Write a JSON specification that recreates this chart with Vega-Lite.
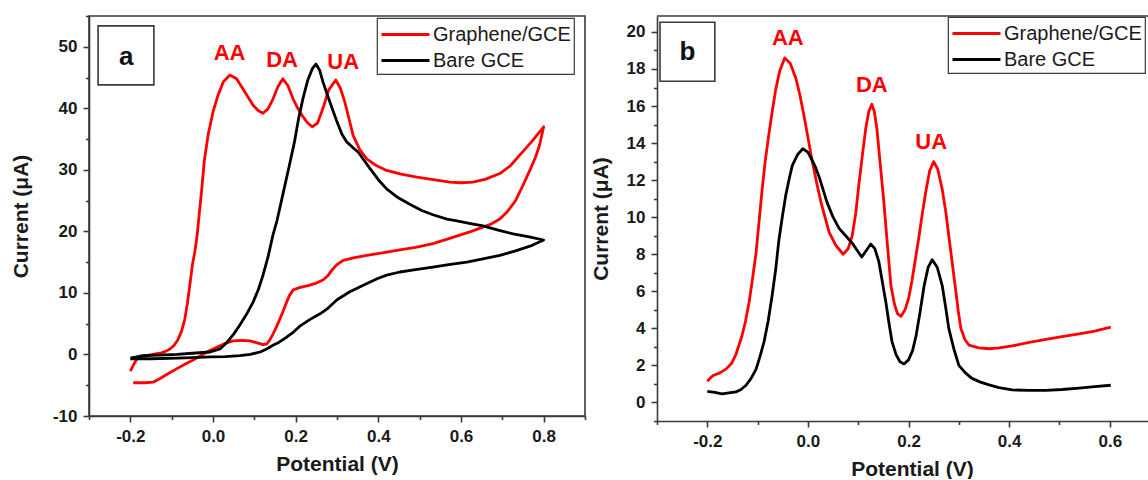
{
  "$schema": "https://vega.github.io/schema/vega-lite/v6.json",
  "padding": {"left": 9, "top": 14, "right": 0, "bottom": 0},
  "background": "white",
  "config": {
    "font": "Liberation Sans",
    "view": {"stroke": "#3a3a3a", "strokeWidth": 1.6},
    "axis": {"grid": false, "labelOverlap": false, "domainColor": "#3a3a3a", "domainWidth": 1.6, "tickColor": "#3a3a3a", "tickWidth": 1.6, "labelFont": "Liberation Sans", "labelFontSize": 17, "labelFontWeight": "bold", "labelColor": "#1a1a1a", "labelPadding": 6, "titleFont": "Liberation Sans", "titleFontSize": 21, "titleFontWeight": "bold", "titleColor": "#1a1a1a"},
    "legend": {"title": null, "orient": "none", "strokeColor": "#3a3a3a", "strokeWidth": 1.2, "fillColor": "white", "padding": 3, "symbolType": "M-1,0H3", "symbolSize": 576, "symbolStrokeWidth": 3, "labelFont": "Liberation Sans", "labelFontSize": 20, "labelColor": "#1a1a1a", "labelOffset": 26, "rowPadding": 2}
  },
  "datasets": {
    "cvA": [
      {"s":"Graphene/GCE","i":1,"V":-0.2,"I":-2.7},{"s":"Graphene/GCE","i":2,"V":-0.19,"I":-1.4},{"s":"Graphene/GCE","i":3,"V":-0.184,"I":-0.7},{"s":"Graphene/GCE","i":4,"V":-0.17,"I":-0.3},{"s":"Graphene/GCE","i":5,"V":-0.16,"I":-0.2},{"s":"Graphene/GCE","i":6,"V":-0.14,"I":0.1},{"s":"Graphene/GCE","i":7,"V":-0.128,"I":0.2},{"s":"Graphene/GCE","i":8,"V":-0.115,"I":0.5},{"s":"Graphene/GCE","i":9,"V":-0.104,"I":0.9},{"s":"Graphene/GCE","i":10,"V":-0.094,"I":1.5},{"s":"Graphene/GCE","i":11,"V":-0.085,"I":2.4},{"s":"Graphene/GCE","i":12,"V":-0.076,"I":3.8},{"s":"Graphene/GCE","i":13,"V":-0.068,"I":5.8},{"s":"Graphene/GCE","i":14,"V":-0.062,"I":8.3},{"s":"Graphene/GCE","i":15,"V":-0.056,"I":11.3},{"s":"Graphene/GCE","i":16,"V":-0.05,"I":14.5},{"s":"Graphene/GCE","i":17,"V":-0.044,"I":16.7},{"s":"Graphene/GCE","i":18,"V":-0.039,"I":19.0},{"s":"Graphene/GCE","i":19,"V":-0.033,"I":23.0},{"s":"Graphene/GCE","i":20,"V":-0.027,"I":27.0},{"s":"Graphene/GCE","i":21,"V":-0.021,"I":31.5},{"s":"Graphene/GCE","i":22,"V":-0.012,"I":35.6},{"s":"Graphene/GCE","i":23,"V":0.0,"I":39.4},{"s":"Graphene/GCE","i":24,"V":0.012,"I":42.1},{"s":"Graphene/GCE","i":25,"V":0.025,"I":44.3},{"s":"Graphene/GCE","i":26,"V":0.041,"I":45.4},{"s":"Graphene/GCE","i":27,"V":0.057,"I":44.8},{"s":"Graphene/GCE","i":28,"V":0.073,"I":43.1},{"s":"Graphene/GCE","i":29,"V":0.085,"I":41.8},{"s":"Graphene/GCE","i":30,"V":0.097,"I":40.5},{"s":"Graphene/GCE","i":31,"V":0.11,"I":39.6},{"s":"Graphene/GCE","i":32,"V":0.121,"I":39.2},{"s":"Graphene/GCE","i":33,"V":0.133,"I":39.9},{"s":"Graphene/GCE","i":34,"V":0.145,"I":41.5},{"s":"Graphene/GCE","i":35,"V":0.157,"I":43.5},{"s":"Graphene/GCE","i":36,"V":0.169,"I":44.8},{"s":"Graphene/GCE","i":37,"V":0.181,"I":43.7},{"s":"Graphene/GCE","i":38,"V":0.194,"I":41.5},{"s":"Graphene/GCE","i":39,"V":0.205,"I":40.0},{"s":"Graphene/GCE","i":40,"V":0.215,"I":38.9},{"s":"Graphene/GCE","i":41,"V":0.228,"I":37.7},{"s":"Graphene/GCE","i":42,"V":0.24,"I":37.0},{"s":"Graphene/GCE","i":43,"V":0.253,"I":37.6},{"s":"Graphene/GCE","i":44,"V":0.266,"I":40.0},{"s":"Graphene/GCE","i":45,"V":0.28,"I":43.0},{"s":"Graphene/GCE","i":46,"V":0.297,"I":44.6},{"s":"Graphene/GCE","i":47,"V":0.308,"I":43.3},{"s":"Graphene/GCE","i":48,"V":0.319,"I":41.0},{"s":"Graphene/GCE","i":49,"V":0.329,"I":38.3},{"s":"Graphene/GCE","i":50,"V":0.339,"I":35.6},{"s":"Graphene/GCE","i":51,"V":0.355,"I":33.3},{"s":"Graphene/GCE","i":52,"V":0.372,"I":31.8},{"s":"Graphene/GCE","i":53,"V":0.395,"I":30.7},{"s":"Graphene/GCE","i":54,"V":0.42,"I":29.9},{"s":"Graphene/GCE","i":55,"V":0.455,"I":29.3},{"s":"Graphene/GCE","i":56,"V":0.493,"I":28.8},{"s":"Graphene/GCE","i":57,"V":0.533,"I":28.4},{"s":"Graphene/GCE","i":58,"V":0.573,"I":28.0},{"s":"Graphene/GCE","i":59,"V":0.6,"I":27.9},{"s":"Graphene/GCE","i":60,"V":0.629,"I":28.0},{"s":"Graphene/GCE","i":61,"V":0.66,"I":28.5},{"s":"Graphene/GCE","i":62,"V":0.694,"I":29.4},{"s":"Graphene/GCE","i":63,"V":0.72,"I":30.7},{"s":"Graphene/GCE","i":64,"V":0.742,"I":32.4},{"s":"Graphene/GCE","i":65,"V":0.77,"I":34.5},{"s":"Graphene/GCE","i":66,"V":0.8,"I":37.0},
      {"s":"Graphene/GCE","i":67,"V":0.79,"I":34.0},{"s":"Graphene/GCE","i":68,"V":0.78,"I":32.0},{"s":"Graphene/GCE","i":69,"V":0.767,"I":30.0},{"s":"Graphene/GCE","i":70,"V":0.75,"I":27.5},{"s":"Graphene/GCE","i":71,"V":0.732,"I":25.0},{"s":"Graphene/GCE","i":72,"V":0.712,"I":23.2},{"s":"Graphene/GCE","i":73,"V":0.694,"I":22.0},{"s":"Graphene/GCE","i":74,"V":0.673,"I":21.2},{"s":"Graphene/GCE","i":75,"V":0.653,"I":20.7},{"s":"Graphene/GCE","i":76,"V":0.625,"I":20.0},{"s":"Graphene/GCE","i":77,"V":0.597,"I":19.4},{"s":"Graphene/GCE","i":78,"V":0.565,"I":18.7},{"s":"Graphene/GCE","i":79,"V":0.532,"I":18.0},{"s":"Graphene/GCE","i":80,"V":0.49,"I":17.4},{"s":"Graphene/GCE","i":81,"V":0.452,"I":17.0},{"s":"Graphene/GCE","i":82,"V":0.41,"I":16.5},{"s":"Graphene/GCE","i":83,"V":0.372,"I":16.1},{"s":"Graphene/GCE","i":84,"V":0.34,"I":15.7},{"s":"Graphene/GCE","i":85,"V":0.315,"I":15.3},{"s":"Graphene/GCE","i":86,"V":0.3,"I":14.6},{"s":"Graphene/GCE","i":87,"V":0.29,"I":13.9},{"s":"Graphene/GCE","i":88,"V":0.278,"I":12.8},{"s":"Graphene/GCE","i":89,"V":0.266,"I":12.1},{"s":"Graphene/GCE","i":90,"V":0.25,"I":11.6},{"s":"Graphene/GCE","i":91,"V":0.23,"I":11.2},{"s":"Graphene/GCE","i":92,"V":0.211,"I":10.9},{"s":"Graphene/GCE","i":93,"V":0.194,"I":10.5},{"s":"Graphene/GCE","i":94,"V":0.185,"I":9.6},{"s":"Graphene/GCE","i":95,"V":0.178,"I":8.5},{"s":"Graphene/GCE","i":96,"V":0.17,"I":7.1},{"s":"Graphene/GCE","i":97,"V":0.162,"I":5.8},{"s":"Graphene/GCE","i":98,"V":0.153,"I":4.4},{"s":"Graphene/GCE","i":99,"V":0.145,"I":3.3},{"s":"Graphene/GCE","i":100,"V":0.137,"I":2.3},{"s":"Graphene/GCE","i":101,"V":0.13,"I":1.7},{"s":"Graphene/GCE","i":102,"V":0.12,"I":1.6},{"s":"Graphene/GCE","i":103,"V":0.112,"I":1.8},{"s":"Graphene/GCE","i":104,"V":0.1,"I":2.0},{"s":"Graphene/GCE","i":105,"V":0.089,"I":2.2},{"s":"Graphene/GCE","i":106,"V":0.07,"I":2.3},{"s":"Graphene/GCE","i":107,"V":0.048,"I":2.2},{"s":"Graphene/GCE","i":108,"V":0.03,"I":1.8},{"s":"Graphene/GCE","i":109,"V":0.017,"I":1.4},{"s":"Graphene/GCE","i":110,"V":0.0,"I":0.9},{"s":"Graphene/GCE","i":111,"V":-0.015,"I":0.4},{"s":"Graphene/GCE","i":112,"V":-0.03,"I":-0.2},{"s":"Graphene/GCE","i":113,"V":-0.048,"I":-0.9},{"s":"Graphene/GCE","i":114,"V":-0.068,"I":-1.6},{"s":"Graphene/GCE","i":115,"V":-0.087,"I":-2.3},{"s":"Graphene/GCE","i":116,"V":-0.108,"I":-3.1},{"s":"Graphene/GCE","i":117,"V":-0.128,"I":-3.9},{"s":"Graphene/GCE","i":118,"V":-0.145,"I":-4.5},{"s":"Graphene/GCE","i":119,"V":-0.165,"I":-4.6},{"s":"Graphene/GCE","i":120,"V":-0.193,"I":-4.6},
      {"s":"Bare GCE","i":1,"V":-0.2,"I":-0.6},{"s":"Bare GCE","i":2,"V":-0.185,"I":-0.4},{"s":"Bare GCE","i":3,"V":-0.17,"I":-0.2},{"s":"Bare GCE","i":4,"V":-0.13,"I":-0.1},{"s":"Bare GCE","i":5,"V":-0.087,"I":0.0},{"s":"Bare GCE","i":6,"V":-0.05,"I":0.2},{"s":"Bare GCE","i":7,"V":-0.007,"I":0.4},{"s":"Bare GCE","i":8,"V":0.017,"I":0.9},{"s":"Bare GCE","i":9,"V":0.034,"I":2.0},{"s":"Bare GCE","i":10,"V":0.05,"I":3.3},{"s":"Bare GCE","i":11,"V":0.065,"I":4.8},{"s":"Bare GCE","i":12,"V":0.08,"I":6.4},{"s":"Bare GCE","i":13,"V":0.097,"I":8.5},{"s":"Bare GCE","i":14,"V":0.11,"I":10.6},{"s":"Bare GCE","i":15,"V":0.121,"I":12.9},{"s":"Bare GCE","i":16,"V":0.133,"I":15.8},{"s":"Bare GCE","i":17,"V":0.145,"I":19.4},{"s":"Bare GCE","i":18,"V":0.155,"I":21.8},{"s":"Bare GCE","i":19,"V":0.165,"I":24.8},{"s":"Bare GCE","i":20,"V":0.175,"I":27.8},{"s":"Bare GCE","i":21,"V":0.184,"I":30.5},{"s":"Bare GCE","i":22,"V":0.197,"I":34.5},{"s":"Bare GCE","i":23,"V":0.207,"I":38.3},{"s":"Bare GCE","i":24,"V":0.218,"I":41.7},{"s":"Bare GCE","i":25,"V":0.229,"I":44.5},{"s":"Bare GCE","i":26,"V":0.24,"I":46.4},{"s":"Bare GCE","i":27,"V":0.249,"I":47.2},{"s":"Bare GCE","i":28,"V":0.258,"I":46.2},{"s":"Bare GCE","i":29,"V":0.266,"I":44.3},{"s":"Bare GCE","i":30,"V":0.275,"I":42.5},{"s":"Bare GCE","i":31,"V":0.283,"I":41.0},{"s":"Bare GCE","i":32,"V":0.3,"I":37.8},{"s":"Bare GCE","i":33,"V":0.312,"I":35.8},{"s":"Bare GCE","i":34,"V":0.324,"I":34.5},{"s":"Bare GCE","i":35,"V":0.337,"I":33.7},{"s":"Bare GCE","i":36,"V":0.351,"I":32.9},{"s":"Bare GCE","i":37,"V":0.365,"I":31.6},{"s":"Bare GCE","i":38,"V":0.38,"I":30.2},{"s":"Bare GCE","i":39,"V":0.4,"I":28.4},{"s":"Bare GCE","i":40,"V":0.42,"I":26.9},{"s":"Bare GCE","i":41,"V":0.445,"I":25.6},{"s":"Bare GCE","i":42,"V":0.476,"I":24.4},{"s":"Bare GCE","i":43,"V":0.505,"I":23.4},{"s":"Bare GCE","i":44,"V":0.532,"I":22.7},{"s":"Bare GCE","i":45,"V":0.566,"I":22.0},{"s":"Bare GCE","i":46,"V":0.59,"I":21.7},{"s":"Bare GCE","i":47,"V":0.62,"I":21.3},{"s":"Bare GCE","i":48,"V":0.653,"I":20.9},{"s":"Bare GCE","i":49,"V":0.69,"I":20.2},{"s":"Bare GCE","i":50,"V":0.726,"I":19.6},{"s":"Bare GCE","i":51,"V":0.765,"I":19.1},{"s":"Bare GCE","i":52,"V":0.8,"I":18.6},
      {"s":"Bare GCE","i":53,"V":0.767,"I":17.6},{"s":"Bare GCE","i":54,"V":0.73,"I":16.8},{"s":"Bare GCE","i":55,"V":0.694,"I":16.1},{"s":"Bare GCE","i":56,"V":0.65,"I":15.5},{"s":"Bare GCE","i":57,"V":0.614,"I":15.0},{"s":"Bare GCE","i":58,"V":0.57,"I":14.6},{"s":"Bare GCE","i":59,"V":0.532,"I":14.2},{"s":"Bare GCE","i":60,"V":0.49,"I":13.8},{"s":"Bare GCE","i":61,"V":0.452,"I":13.4},{"s":"Bare GCE","i":62,"V":0.42,"I":12.9},{"s":"Bare GCE","i":63,"V":0.397,"I":12.3},{"s":"Bare GCE","i":64,"V":0.365,"I":11.3},{"s":"Bare GCE","i":65,"V":0.331,"I":10.2},{"s":"Bare GCE","i":66,"V":0.3,"I":8.9},{"s":"Bare GCE","i":67,"V":0.276,"I":7.4},{"s":"Bare GCE","i":68,"V":0.259,"I":6.6},{"s":"Bare GCE","i":69,"V":0.235,"I":5.7},{"s":"Bare GCE","i":70,"V":0.21,"I":4.6},{"s":"Bare GCE","i":71,"V":0.194,"I":3.6},{"s":"Bare GCE","i":72,"V":0.178,"I":2.8},{"s":"Bare GCE","i":73,"V":0.16,"I":2.0},{"s":"Bare GCE","i":74,"V":0.145,"I":1.5},{"s":"Bare GCE","i":75,"V":0.13,"I":0.9},{"s":"Bare GCE","i":76,"V":0.114,"I":0.4},{"s":"Bare GCE","i":77,"V":0.09,"I":0.0},{"s":"Bare GCE","i":78,"V":0.065,"I":-0.2},{"s":"Bare GCE","i":79,"V":0.03,"I":-0.35},{"s":"Bare GCE","i":80,"V":-0.007,"I":-0.4},{"s":"Bare GCE","i":81,"V":-0.05,"I":-0.5},{"s":"Bare GCE","i":82,"V":-0.087,"I":-0.6},{"s":"Bare GCE","i":83,"V":-0.15,"I":-0.7},{"s":"Bare GCE","i":84,"V":-0.2,"I":-0.7}
    ],
    "dpvB": [
      {"s":"Graphene/GCE","V":-0.2,"I":1.15},{"s":"Graphene/GCE","V":-0.193,"I":1.35},{"s":"Graphene/GCE","V":-0.187,"I":1.47},{"s":"Graphene/GCE","V":-0.175,"I":1.6},{"s":"Graphene/GCE","V":-0.163,"I":1.8},{"s":"Graphene/GCE","V":-0.152,"I":2.1},{"s":"Graphene/GCE","V":-0.143,"I":2.6},{"s":"Graphene/GCE","V":-0.137,"I":3.1},{"s":"Graphene/GCE","V":-0.131,"I":3.6},{"s":"Graphene/GCE","V":-0.124,"I":4.4},{"s":"Graphene/GCE","V":-0.117,"I":5.4},{"s":"Graphene/GCE","V":-0.11,"I":6.7},{"s":"Graphene/GCE","V":-0.103,"I":8.1},{"s":"Graphene/GCE","V":-0.097,"I":9.8},{"s":"Graphene/GCE","V":-0.091,"I":11.5},{"s":"Graphene/GCE","V":-0.085,"I":13.0},{"s":"Graphene/GCE","V":-0.078,"I":14.4},{"s":"Graphene/GCE","V":-0.071,"I":15.7},{"s":"Graphene/GCE","V":-0.064,"I":16.9},{"s":"Graphene/GCE","V":-0.056,"I":17.9},{"s":"Graphene/GCE","V":-0.046,"I":18.6},{"s":"Graphene/GCE","V":-0.035,"I":18.3},{"s":"Graphene/GCE","V":-0.024,"I":17.5},{"s":"Graphene/GCE","V":-0.016,"I":16.6},{"s":"Graphene/GCE","V":-0.008,"I":15.5},{"s":"Graphene/GCE","V":0.0,"I":14.3},{"s":"Graphene/GCE","V":0.008,"I":13.1},{"s":"Graphene/GCE","V":0.017,"I":11.9},{"s":"Graphene/GCE","V":0.026,"I":10.8},{"s":"Graphene/GCE","V":0.034,"I":10.0},{"s":"Graphene/GCE","V":0.042,"I":9.2},{"s":"Graphene/GCE","V":0.055,"I":8.5},{"s":"Graphene/GCE","V":0.07,"I":8.0},{"s":"Graphene/GCE","V":0.08,"I":8.3},{"s":"Graphene/GCE","V":0.088,"I":9.0},{"s":"Graphene/GCE","V":0.095,"I":10.2},{"s":"Graphene/GCE","V":0.101,"I":11.7},{"s":"Graphene/GCE","V":0.108,"I":13.3},{"s":"Graphene/GCE","V":0.115,"I":14.8},{"s":"Graphene/GCE","V":0.121,"I":15.7},{"s":"Graphene/GCE","V":0.127,"I":16.1},{"s":"Graphene/GCE","V":0.132,"I":15.7},{"s":"Graphene/GCE","V":0.137,"I":14.8},{"s":"Graphene/GCE","V":0.144,"I":12.8},{"s":"Graphene/GCE","V":0.151,"I":10.8},{"s":"Graphene/GCE","V":0.158,"I":8.5},{"s":"Graphene/GCE","V":0.165,"I":6.3},{"s":"Graphene/GCE","V":0.172,"I":5.3},{"s":"Graphene/GCE","V":0.178,"I":4.8},{"s":"Graphene/GCE","V":0.185,"I":4.65},{"s":"Graphene/GCE","V":0.193,"I":5.0},{"s":"Graphene/GCE","V":0.2,"I":5.6},{"s":"Graphene/GCE","V":0.207,"I":6.6},{"s":"Graphene/GCE","V":0.214,"I":7.8},{"s":"Graphene/GCE","V":0.221,"I":9.0},{"s":"Graphene/GCE","V":0.228,"I":10.3},{"s":"Graphene/GCE","V":0.235,"I":11.5},{"s":"Graphene/GCE","V":0.242,"I":12.5},{"s":"Graphene/GCE","V":0.25,"I":13.0},{"s":"Graphene/GCE","V":0.258,"I":12.6},{"s":"Graphene/GCE","V":0.267,"I":11.5},{"s":"Graphene/GCE","V":0.274,"I":10.3},{"s":"Graphene/GCE","V":0.28,"I":9.0},{"s":"Graphene/GCE","V":0.287,"I":7.5},{"s":"Graphene/GCE","V":0.294,"I":6.0},{"s":"Graphene/GCE","V":0.299,"I":4.9},{"s":"Graphene/GCE","V":0.304,"I":4.0},{"s":"Graphene/GCE","V":0.312,"I":3.4},{"s":"Graphene/GCE","V":0.32,"I":3.1},{"s":"Graphene/GCE","V":0.34,"I":2.95},{"s":"Graphene/GCE","V":0.36,"I":2.9},{"s":"Graphene/GCE","V":0.38,"I":2.95},{"s":"Graphene/GCE","V":0.406,"I":3.05},{"s":"Graphene/GCE","V":0.44,"I":3.25},{"s":"Graphene/GCE","V":0.473,"I":3.4},{"s":"Graphene/GCE","V":0.505,"I":3.55},{"s":"Graphene/GCE","V":0.539,"I":3.7},{"s":"Graphene/GCE","V":0.57,"I":3.85},{"s":"Graphene/GCE","V":0.602,"I":4.07},
      {"s":"Bare GCE","V":-0.2,"I":0.6},{"s":"Bare GCE","V":-0.185,"I":0.55},{"s":"Bare GCE","V":-0.171,"I":0.47},{"s":"Bare GCE","V":-0.157,"I":0.52},{"s":"Bare GCE","V":-0.143,"I":0.57},{"s":"Bare GCE","V":-0.133,"I":0.7},{"s":"Bare GCE","V":-0.123,"I":0.93},{"s":"Bare GCE","V":-0.113,"I":1.3},{"s":"Bare GCE","V":-0.103,"I":1.8},{"s":"Bare GCE","V":-0.095,"I":2.5},{"s":"Bare GCE","V":-0.087,"I":3.3},{"s":"Bare GCE","V":-0.079,"I":4.4},{"s":"Bare GCE","V":-0.071,"I":5.8},{"s":"Bare GCE","V":-0.064,"I":7.2},{"s":"Bare GCE","V":-0.058,"I":8.7},{"s":"Bare GCE","V":-0.051,"I":10.0},{"s":"Bare GCE","V":-0.044,"I":11.2},{"s":"Bare GCE","V":-0.037,"I":12.1},{"s":"Bare GCE","V":-0.031,"I":12.8},{"s":"Bare GCE","V":-0.02,"I":13.4},{"s":"Bare GCE","V":-0.01,"I":13.7},{"s":"Bare GCE","V":0.0,"I":13.5},{"s":"Bare GCE","V":0.008,"I":13.1},{"s":"Bare GCE","V":0.015,"I":12.7},{"s":"Bare GCE","V":0.022,"I":12.2},{"s":"Bare GCE","V":0.03,"I":11.5},{"s":"Bare GCE","V":0.038,"I":10.8},{"s":"Bare GCE","V":0.05,"I":10.0},{"s":"Bare GCE","V":0.062,"I":9.4},{"s":"Bare GCE","V":0.075,"I":9.0},{"s":"Bare GCE","V":0.088,"I":8.6},{"s":"Bare GCE","V":0.098,"I":8.2},{"s":"Bare GCE","V":0.107,"I":7.85},{"s":"Bare GCE","V":0.116,"I":8.2},{"s":"Bare GCE","V":0.125,"I":8.55},{"s":"Bare GCE","V":0.133,"I":8.3},{"s":"Bare GCE","V":0.141,"I":7.6},{"s":"Bare GCE","V":0.148,"I":6.5},{"s":"Bare GCE","V":0.155,"I":5.4},{"s":"Bare GCE","V":0.161,"I":4.3},{"s":"Bare GCE","V":0.167,"I":3.3},{"s":"Bare GCE","V":0.175,"I":2.6},{"s":"Bare GCE","V":0.183,"I":2.2},{"s":"Bare GCE","V":0.191,"I":2.08},{"s":"Bare GCE","V":0.2,"I":2.3},{"s":"Bare GCE","V":0.208,"I":2.8},{"s":"Bare GCE","V":0.215,"I":3.6},{"s":"Bare GCE","V":0.223,"I":4.9},{"s":"Bare GCE","V":0.231,"I":6.3},{"s":"Bare GCE","V":0.239,"I":7.3},{"s":"Bare GCE","V":0.247,"I":7.7},{"s":"Bare GCE","V":0.257,"I":7.3},{"s":"Bare GCE","V":0.267,"I":6.3},{"s":"Bare GCE","V":0.274,"I":5.1},{"s":"Bare GCE","V":0.28,"I":4.0},{"s":"Bare GCE","V":0.29,"I":2.9},{"s":"Bare GCE","V":0.3,"I":2.0},{"s":"Bare GCE","V":0.313,"I":1.6},{"s":"Bare GCE","V":0.326,"I":1.3},{"s":"Bare GCE","V":0.343,"I":1.1},{"s":"Bare GCE","V":0.36,"I":0.95},{"s":"Bare GCE","V":0.38,"I":0.8},{"s":"Bare GCE","V":0.406,"I":0.68},{"s":"Bare GCE","V":0.44,"I":0.65},{"s":"Bare GCE","V":0.473,"I":0.65},{"s":"Bare GCE","V":0.505,"I":0.7},{"s":"Bare GCE","V":0.539,"I":0.78},{"s":"Bare GCE","V":0.57,"I":0.85},{"s":"Bare GCE","V":0.602,"I":0.93}
    ],
    "labA": [{"t":"AA","V":0.04,"I":47.9},{"t":"DA","V":0.167,"I":46.7},{"t":"UA","V":0.315,"I":46.4}],
    "labB": [{"t":"AA","V":-0.04,"I":19.3},{"t":"DA","V":0.127,"I":16.75},{"t":"UA","V":0.245,"I":13.7}]
  },
  "hconcat": [
    {
      "width": 496,
      "height": 400,
      "resolve": {"axis": {"x": "independent", "y": "independent"}},
      "layer": [
        {
          "data": {"name": "cvA"},
          "mark": {"type": "line", "strokeWidth": 2.8, "strokeJoin": "round"},
          "encoding": {
            "x": {"field": "V", "type": "quantitative", "scale": {"domain": [-0.3, 0.9], "nice": false, "zero": false},
              "axis": {"orient": "bottom", "title": "Potential (V)", "labelOverlap": false, "values": [-0.2,0,0.2,0.4,0.6,0.8],
                "labelExpr": "replace(format(datum.value, '.1f'), '\u2212', '-')", "tickSize": 6, "titlePadding": 9}},
            "y": {"field": "I", "type": "quantitative", "scale": {"domain": [-10, 55], "nice": false, "zero": false},
              "axis": {"orient": "left", "title": "Current (\u03bcA)", "labelOverlap": false, "values": [-10,0,10,20,30,40,50],
                "labelExpr": "replace(format(datum.value, 'd'), '\u2212', '-')", "tickSize": 6, "titlePadding": 21}},
            "color": {"field": "s", "type": "nominal", "scale": {"domain": ["Graphene/GCE", "Bare GCE"], "range": ["#ff0000", "#000000"]},
              "legend": {"orient": "none", "legendX": 288, "legendY": 2}},
            "order": {"field": "i", "type": "quantitative"}
          }
        },
        {
          "data": {"name": "labA"},
          "mark": {"type": "text", "font": "Liberation Sans", "fontWeight": "bold", "fontSize": 22, "color": "#ff0000", "align": "center", "baseline": "alphabetic"},
          "encoding": {
            "x": {"field": "V", "type": "quantitative",
              "axis": {"orient": "bottom", "title": null, "labels": false, "domain": false, "tickSize": 3.5, "values": [-0.3,-0.1,0.1,0.3,0.5,0.7,0.9]}},
            "y": {"field": "I", "type": "quantitative",
              "axis": {"orient": "left", "title": null, "labels": false, "domain": false, "tickSize": 3.5, "values": [-5,5,15,25,35,45,55]}},
            "text": {"field": "t"}
          }
        },
        {
          "data": {"values": [{}]},
          "mark": {"type": "rect", "fill": "white", "stroke": "#3a3a3a", "strokeWidth": 1.6},
          "encoding": {
            "x": {"datum": -0.278, "type": "quantitative", "axis": null},
            "x2": {"datum": -0.143},
            "y": {"datum": 53.4, "type": "quantitative", "axis": null},
            "y2": {"datum": 43.8}
          }
        },
        {
          "data": {"values": [{}]},
          "mark": {"type": "text", "font": "Liberation Sans", "fontWeight": "bold", "fontSize": 26, "color": "#111111", "align": "center", "baseline": "alphabetic", "text": "a"},
          "encoding": {
            "x": {"datum": -0.21, "type": "quantitative", "axis": null},
            "y": {"datum": 47.1, "type": "quantitative", "axis": null}
          }
        }
      ]
    },
    {
      "width": 491,
      "height": 405,
      "view": {"stroke": null},
      "resolve": {"axis": {"x": "independent", "y": "independent"}},
      "layer": [
        {
          "data": {"name": "dpvB"},
          "mark": {"type": "line", "strokeWidth": 2.8, "strokeJoin": "round"},
          "encoding": {
            "x": {"field": "V", "type": "quantitative", "scale": {"domain": [-0.3, 0.676], "nice": false, "zero": false},
              "axis": {"orient": "bottom", "title": "Potential (V)", "labelOverlap": false, "values": [-0.2,0,0.2,0.4,0.6],
                "labelExpr": "replace(format(datum.value, '.1f'), '\u2212', '-')", "tickSize": 6, "titlePadding": 9, "titleX": 255}},
            "y": {"field": "I", "type": "quantitative", "scale": {"domain": [-1, 20.86], "nice": false, "zero": false},
              "axis": {"orient": "left", "title": "Current (\u03bcA)", "labelOverlap": false, "values": [0,2,4,6,8,10,12,14,16,18,20],
                "format": "d", "tickSize": 6, "titlePadding": 15}},
            "color": {"field": "s", "type": "nominal", "scale": {"domain": ["Graphene/GCE", "Bare GCE"], "range": ["#ff0000", "#000000"]},
              "legend": {"orient": "none", "legendX": 291, "legendY": 1}}
          }
        },
        {
          "data": {"values": [{}]},
          "mark": {"type": "rule", "stroke": "#3a3a3a", "strokeWidth": 1.6},
          "encoding": {
            "y": {"datum": 20.86, "type": "quantitative",
              "axis": {"orient": "left", "title": null, "labels": false, "domain": false, "grid": false, "tickSize": 3.5,
                "values": [-1,1,3,5,7,9,11,13,15,17,19]}}
          }
        },
        {
          "data": {"name": "labB"},
          "mark": {"type": "text", "font": "Liberation Sans", "fontWeight": "bold", "fontSize": 22, "color": "#ff0000", "align": "center", "baseline": "alphabetic"},
          "encoding": {
            "x": {"field": "V", "type": "quantitative",
              "axis": {"orient": "bottom", "title": null, "labels": false, "domain": false, "tickSize": 3.5, "values": [-0.3,-0.1,0.1,0.3,0.5]}},
            "y": {"field": "I", "type": "quantitative", "axis": null},
            "text": {"field": "t"}
          }
        },
        {
          "data": {"values": [{}]},
          "mark": {"type": "rect", "fill": "white", "stroke": "#3a3a3a", "strokeWidth": 1.6},
          "encoding": {
            "x": {"datum": -0.294, "type": "quantitative", "axis": null},
            "x2": {"datum": -0.185},
            "y": {"datum": 20.52, "type": "quantitative", "axis": null},
            "y2": {"datum": 17.34}
          }
        },
        {
          "data": {"values": [{}]},
          "mark": {"type": "text", "font": "Liberation Sans", "fontWeight": "bold", "fontSize": 26, "color": "#111111", "align": "center", "baseline": "alphabetic", "text": "b"},
          "encoding": {
            "x": {"datum": -0.2396, "type": "quantitative", "axis": null},
            "y": {"datum": 18.47, "type": "quantitative", "axis": null}
          }
        }
      ]
    }
  ],
  "spacing": 72,
  "bounds": "flush",
  "resolve": {"scale": {"color": "independent", "x": "independent", "y": "independent"}, "legend": {"color": "independent"}}
}
